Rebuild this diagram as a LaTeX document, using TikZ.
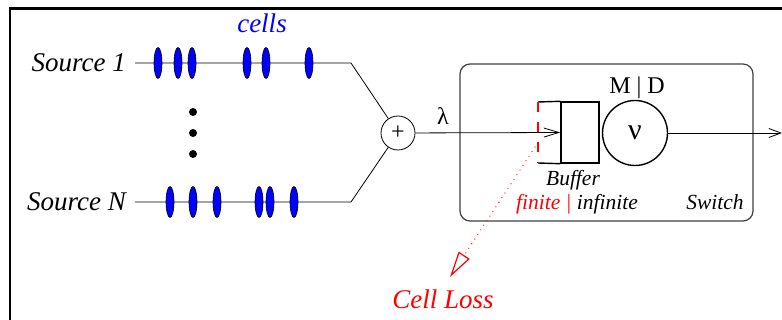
\documentclass[tikz,border=0pt]{standalone}
\usepackage{fontspec}
\setmainfont{Liberation Serif}
\usetikzlibrary{arrows.meta,shapes.geometric}
\begin{document}
\begin{tikzpicture}[x=1pt,y=-1pt,
  big/.style={font=\fontsize{27}{30}\selectfont\itshape, inner sep=0},
  mid/.style={font=\fontsize{21.5}{24}\selectfont\itshape, inner sep=0},
  cellnode/.style={ellipse, draw=black, line width=0.6pt, fill=blue, minimum width=8pt, minimum height=31pt, inner sep=0},
  dotnode/.style={circle, fill=black, minimum size=8pt, inner sep=0},
  wire/.style={line width=0.8pt},
  barb/.style={-{Straight Barb[length=12pt,width=9pt]}},
  inbarb/.style={-{Straight Barb[length=15pt,width=9pt]}},
  thickline/.style={line width=1.4pt}]
\useasboundingbox (0,0) rectangle (782,320);
\draw[line width=2.7pt] (10,320) -- (10,8.5) -- (782,8.5);

% sources
\node[big, anchor=base east] (s1) at (126,72) {Source 1};
\node[big, anchor=base east] (sN) at (126,211) {Source N};
\node[big, text=blue, anchor=base] (cells) at (262,33) {cells};
\coordinate (s1a) at (135,63); \coordinate (s1b) at (351,63);
\coordinate (sNa) at (135,202); \coordinate (sNb) at (351,202);
\node[circle, draw, line width=0.8pt, minimum size=34pt, inner sep=0, font=\fontsize{24}{24}\selectfont] (plus) at (398,133) {+};
\draw[wire] (s1a) -- (s1b) -- (plus);
\draw[wire] (sNa) -- (sNb) -- (plus);
\foreach \x in {158,178,192,247,266,309} \node[cellnode] (ca\x) at (\x,63) {};
\foreach \x in {170,193,217,259,270,294} \node[cellnode] (cb\x) at (\x,202) {};
\foreach \y in {112,133,154} \node[dotnode] (d\y) at (193,\y) {};

% switch
\node[draw=black!75, line width=1.2pt, rounded corners=10pt, minimum width=293pt, minimum height=157pt, inner sep=0] (switch) at (606.5,142.5) {};
\node[font=\fontsize{24}{26}\selectfont, inner sep=0, anchor=base] (lam) at (443,125) {λ};
\node[draw, thickline, minimum width=38pt, minimum height=61pt, inner sep=0] (slot) at (580,132.5) {};
\coordinate (bt) at (538,102); \coordinate (bb) at (538,163);
\draw[thickline] (bt) -- (slot.north west);
\draw[thickline] (bb) -- (slot.south west);
\draw[red, thickline, dash pattern=on 10pt off 10pt] (bt) -- (bb);
\draw[wire, inbarb] (plus) -- (slot.west);
\node[circle, draw, thickline, minimum size=65pt, inner sep=0, font=\fontsize{30}{30}\selectfont] (srv) at (635,133) {ν};
\node[font=\fontsize{24}{26}\selectfont, inner sep=0, anchor=base] (md) at (637,94) {M | D};
\coordinate (out) at (782,133);
\draw[wire, barb] (srv) -- (out);
\node[mid, anchor=base] (buf) at (573,186) {Buffer};
\node[mid, anchor=base] (fin) at (577,210) {\textcolor{red}{finite |} infinite};
\node[mid, anchor=base] (sw) at (715,210) {Switch};

% loss
\coordinate (ls) at (535,147); \coordinate (lt) at (450,277);
\draw[red, line width=1.3pt, line cap=round, dash pattern=on 0pt off 5.5pt, -{Triangle[open, length=26pt, width=13pt, line width=1.2pt]}] (ls) -- (lt);
\node[big, text=red, anchor=base] (loss) at (443,309) {Cell Loss};
\end{tikzpicture}
\end{document}
